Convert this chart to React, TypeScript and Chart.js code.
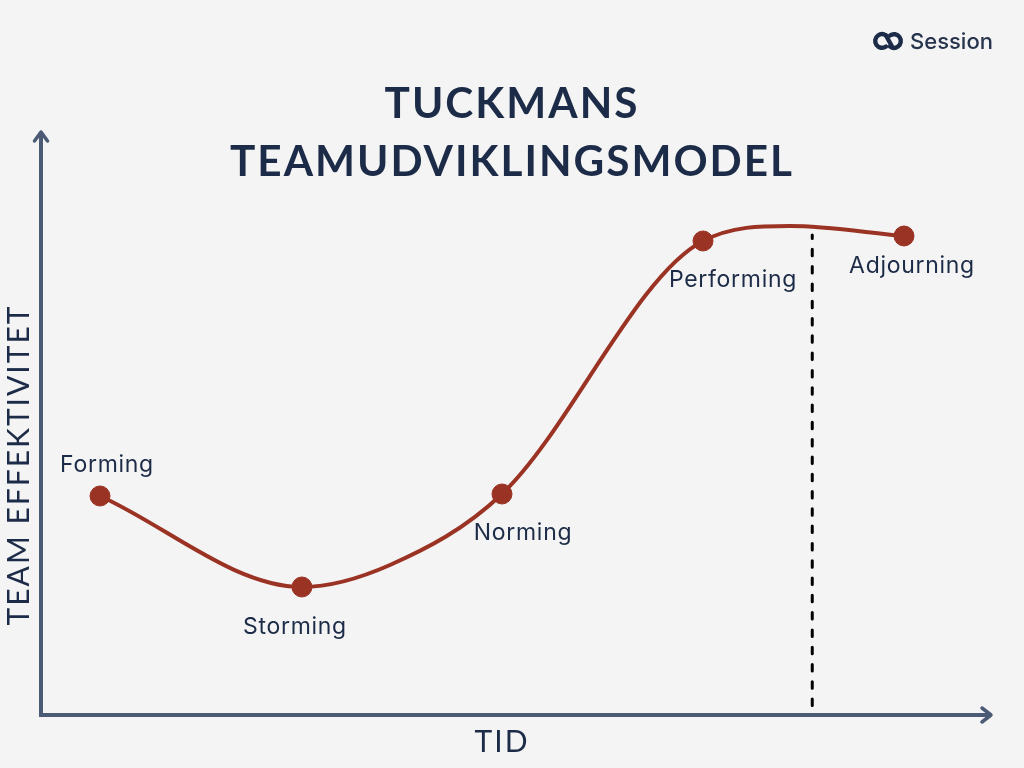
import React, { useEffect, useRef } from "react";
import { Chart, registerables } from "chart.js";

Chart.register(...registerables);

const stageNames = ["Forming", "Storming", "Norming", "Performing", "Adjourning"];
const stageTime = [6.4, 28.3, 50, 71.8, 93.6];
const stageEffect = [43.8, 25.6, 44.2, 94.8, 95.8];
const curveTime = [6.4, 28.3, 37.85, 50, 71.8, 81.2, 93.6];
const curveEffect = [43.8, 25.6, 30, 44.2, 94.8, 97.8, 95.8];
const dividerTime = [83.65, 83.65];
const dividerEffect = [96, 0.6];
const titleLines = ["TUCKMANS", "TEAMUDVIKLINGSMODEL"];
const xTitle = "TID";
const yTitle = "TEAM EFFEKTIVITET";
const brand = "Session";

const NAVY = "#1c2b47";
const AXIS = "#4b5a75";
const RED = "#9b3324";
const BG = "#f4f4f4";
const FONT = "Inter";
const HEAD = "Lato";
const labelShift = [
  [7, -31],
  [-7, 40],
  [21, 39],
  [30, 39],
  [8, 30],
];

const decor = {
  id: "decor",
  beforeDraw(chart: any) {
    const { ctx, width, height, chartArea: a } = chart;
    ctx.save();
    ctx.fillStyle = BG;
    ctx.fillRect(0, 0, width, height);
    ctx.restore();
    // axes with arrowheads
    ctx.save();
    ctx.strokeStyle = AXIS;
    ctx.lineWidth = 4;
    ctx.lineCap = "butt";
    ctx.beginPath();
    ctx.moveTo(a.left, a.bottom + 2);
    ctx.lineTo(a.left, 132);
    ctx.moveTo(a.left, a.bottom);
    ctx.lineTo(990, a.bottom);
    ctx.stroke();
    ctx.lineCap = "round";
    ctx.lineJoin = "round";
    ctx.lineWidth = 3.5;
    ctx.beginPath();
    ctx.moveTo(a.left - 6.5, 141);
    ctx.lineTo(a.left, 132);
    ctx.lineTo(a.left + 6.5, 141);
    ctx.moveTo(982, a.bottom - 7);
    ctx.lineTo(991, a.bottom);
    ctx.lineTo(982, a.bottom + 7);
    ctx.stroke();
    ctx.restore();
    // brand mark
    ctx.save();
    ctx.strokeStyle = NAVY;
    ctx.lineWidth = 4.4;
    ctx.lineCap = "round";
    ctx.beginPath();
    ctx.arc(882, 41, 6.8, Math.PI * 0.3, Math.PI * 1.7);
    ctx.stroke();
    ctx.beginPath();
    ctx.arc(894, 41, 6.8, -Math.PI * 0.7, Math.PI * 0.7);
    ctx.stroke();
    ctx.beginPath();
    ctx.moveTo(886, 35.5);
    ctx.lineTo(892, 46.5);
    ctx.stroke();
    ctx.restore();
    ctx.letterSpacing = "2px";
  },
  afterDatasetsDraw(chart: any) {
    const { ctx } = chart;
    const pts = chart.getDatasetMeta(2).data;
    ctx.save();
    ctx.letterSpacing = "0.7px";
    ctx.fillStyle = NAVY;
    ctx.font = `400 23px ${FONT}`;
    ctx.textAlign = "center";
    ctx.textBaseline = "middle";
    stageNames.forEach((n, i) => {
      ctx.fillText(n, pts[i].x + labelShift[i][0], pts[i].y + labelShift[i][1]);
    });
    ctx.letterSpacing = "0px";
    ctx.font = `500 22px ${FONT}`;
    ctx.textAlign = "left";
    ctx.fillStyle = "#27344e";
    ctx.fillText(brand, 910, 42);
    ctx.restore();
  },
};

const hiddenAxis = {
  type: "linear",
  min: 0,
  max: 100,
  grid: { display: false },
  border: { display: false },
  ticks: { display: false },
};

export default function App() {
  const ref = useRef<HTMLCanvasElement>(null);
  useEffect(() => {
    const chart = new Chart(ref.current as HTMLCanvasElement, {
      type: "line",
      data: {
        datasets: [
          {
            label: "Skillelinje",
            data: dividerTime.map((x, i) => ({ x, y: dividerEffect[i] })),
            borderColor: "#000000",
            borderWidth: 3,
            borderDash: [6.5, 10.8],
            borderDashOffset: 3,
            borderCapStyle: "round",
            pointRadius: 0,
            tension: 0,
          },
          {
            label: "Team effektivitet",
            data: curveTime.map((x, i) => ({ x, y: curveEffect[i] })),
            borderColor: RED,
            borderWidth: 4,
            cubicInterpolationMode: "monotone",
            pointRadius: 0,
            clip: false,
          },
          {
            label: "Faser",
            data: stageTime.map((x, i) => ({ x, y: stageEffect[i] })),
            showLine: false,
            pointRadius: 10,
            pointBackgroundColor: RED,
            pointBorderColor: RED,
            pointBorderWidth: 1,
            clip: false,
          },
        ],
      } as any,
      options: {
        responsive: false,
        animation: false,
        plugins: {
          legend: { display: false },
          tooltip: { enabled: false },
          title: {
            display: true,
            text: titleLines,
            color: NAVY,
            font: { family: HEAD, size: 42.3, weight: "700", lineHeight: 1.371 },
            padding: { top: 75, bottom: 24 },
          },
        },
        scales: {
          x: {
            ...hiddenAxis,
            title: {
              display: true,
              text: xTitle,
              color: NAVY,
              font: { family: HEAD, size: 30, weight: "400" },
              padding: { top: 0, bottom: 8 },
            },
            afterFit: (s: any) => {
              s.height = 53;
            },
          },
          y: {
            ...hiddenAxis,
            title: {
              display: true,
              text: yTitle,
              color: NAVY,
              font: { family: HEAD, size: 30, weight: "400" },
              padding: { top: 1, bottom: 0 },
            },
            afterFit: (s: any) => {
              s.width = 41;
            },
          },
          spare: {
            ...hiddenAxis,
            position: "right",
            afterFit: (s: any) => {
              s.width = 61;
            },
          },
        },
      } as any,
      plugins: [decor],
    });
    return () => chart.destroy();
  }, []);
  return (
    <div style={{ position: "absolute", left: 0, top: 0, width: 1024, height: 768 }}>
      <canvas ref={ref} width={1024} height={768} style={{ display: "block" }} />
    </div>
  );
}
